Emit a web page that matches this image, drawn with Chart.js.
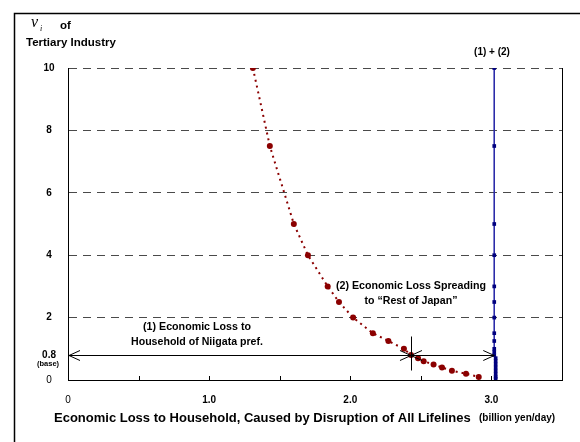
<!DOCTYPE html>
<html>
<head>
<meta charset="utf-8">
<script src="https://cdn.jsdelivr.net/npm/chart.js@4.4.0/dist/chart.umd.min.js"></script>
<style>
    html, body { margin: 0; padding: 0; background: #fff; }
    #wrap { width: 580px; height: 442px; position: relative; }
</style>
</head>
<body>
<div id="wrap"><canvas id="lossChart" width="580" height="442"></canvas></div>
<script>
// (1) loss to household of Niigata pref. vs nu_i
const niigataLoss = [1.31, 1.43, 1.60, 1.70, 1.84, 1.92, 2.02, 2.16, 2.27, 2.38, 2.43, 2.48, 2.52, 2.59, 2.65, 2.72, 2.82, 2.91];
const niigataNu   = [10, 7.5, 5, 4, 3, 2.5, 2, 1.5, 1.25, 1.0, 0.8, 0.7, 0.6, 0.5, 0.4, 0.3, 0.2, 0.1];

// (1) + (2) total loss vs nu_i
const totalLoss = [3.02, 3.02, 3.02, 3.02, 3.02, 3.02, 3.02, 3.02, 3.02, 3.02, 3.02, 3.02, 3.03, 3.03, 3.03, 3.03, 3.03, 3.03, 3.03, 3.03];
const totalNu   = [10, 7.5, 5, 4, 3, 2.5, 2, 1.5, 1.25, 1.0, 0.9, 0.8, 0.7, 0.6, 0.5, 0.4, 0.3, 0.2, 0.1, 0.05];

// axis ticks
const yTickValues = [0, 0.8, 2, 4, 6, 8, 10];
const yGridValues = [2, 4, 6, 8, 10];
const xLabelText = { 0: '0', 1: '1.0', 2: '2.0', 3: '3.0' };

// base case markers
const baseNu = 0.8;
const niigataAtBase = 2.43;
const totalAtBase = 3.02;

const FONT = "'Liberation Sans', Arial, sans-serif";

const toPoints = (xs, ys) => xs.map((x, i) => ({ x: x, y: ys[i] }));

function arrowHead(ctx, x, y, dir) {
    // dir = -1 points left, 1 points right
    ctx.beginPath();
    ctx.moveTo(x - dir * 11, y - 5);
    ctx.lineTo(x, y);
    ctx.lineTo(x - dir * 11, y + 5);
    ctx.stroke();
}

const decorations = {
    id: 'decorations',
    afterDraw(chart) {
        const ctx = chart.ctx;
        const xs = chart.scales.x;
        const ys = chart.scales.y;
        const area = chart.chartArea;

        ctx.save();
        ctx.strokeStyle = '#000';
        ctx.fillStyle = '#000';

        // outer frame
        ctx.lineWidth = 1.5;
        ctx.strokeRect(14.5, 13.5, 640, 500);

        // right border of plot area
        ctx.lineWidth = 1;
        ctx.beginPath();
        ctx.moveTo(area.right + 0.5, area.top);
        ctx.lineTo(area.right + 0.5, area.bottom);
        ctx.stroke();

        // inward tick marks on x axis
        xs.ticks.forEach(t => {
            if (t.value === 0 || t.value === xs.max) return;
            const px = Math.round(xs.getPixelForValue(t.value)) + 0.5;
            ctx.beginPath();
            ctx.moveTo(px, area.bottom);
            ctx.lineTo(px, area.bottom - 4);
            ctx.stroke();
        });

        // base line arrows
        const yb = Math.round(ys.getPixelForValue(baseNu)) + 0.5;
        const x0 = xs.getPixelForValue(0);
        const xm = xs.getPixelForValue(niigataAtBase);
        const xt = xs.getPixelForValue(totalAtBase);
        ctx.lineWidth = 1;
        ctx.beginPath();
        ctx.moveTo(x0, yb);
        ctx.lineTo(xt, yb);
        ctx.stroke();
        arrowHead(ctx, x0 + 1, yb, -1);
        arrowHead(ctx, xt, yb, 1);
        arrowHead(ctx, xm, yb, 1);
        arrowHead(ctx, xm, yb, -1);
        ctx.beginPath();
        ctx.moveTo(Math.round(xm) + 0.5, yb - 19);
        ctx.lineTo(Math.round(xm) + 0.5, yb + 15);
        ctx.stroke();

        // annotation texts
        ctx.textAlign = 'center';
        ctx.textBaseline = 'middle';
        ctx.font = 'bold 11.5px ' + FONT;
        ctx.fillText('(1) Economic Loss to', 197, 327, 108);
        ctx.fillText('Household of Niigata pref.', 197, 342, 132);
        ctx.fillText('(2) Economic Loss Spreading', 411, 286, 150);
        ctx.fillText('to \u201CRest of Japan\u201D', 411, 301, 93);
        ctx.font = 'bold 10px ' + FONT;
        ctx.fillText('(1) + (2)', 492, 52, 40);

        // "(base)" under 0.8
        ctx.font = 'bold 7.5px ' + FONT;
        ctx.fillText('(base)', 48, 364);

        // y axis title
        ctx.textAlign = 'left';
        ctx.font = 'italic 16px "Liberation Serif", serif';
        ctx.fillText('\u03BD', 31, 23);
        ctx.font = 'italic 8px "Liberation Serif", serif';
        ctx.fillText('i', 40, 29);
        ctx.font = 'bold 11.5px ' + FONT;
        ctx.fillText('of', 60, 26);
        ctx.fillText('Tertiary Industry', 26, 43, 92);

        // x axis title
        ctx.font = 'bold 13px ' + FONT;
        ctx.fillText('Economic Loss to Household, Caused by Disruption of All Lifelines', 54, 418, 418);
        ctx.font = 'bold 10px ' + FONT;
        ctx.fillText('(billion yen/day)', 479, 418, 93);

        ctx.restore();
    }
};

new Chart(document.getElementById('lossChart'), {
    type: 'scatter',
    data: {
        datasets: [
            {
                label: '(1) Niigata pref.',
                data: toPoints(niigataLoss, niigataNu),
                showLine: true,
                borderColor: '#8b0000',
                borderWidth: 2,
                borderDash: [2, 4],
                pointStyle: 'circle',
                pointRadius: 3,
                pointBackgroundColor: '#8b0000',
                pointBorderColor: '#8b0000',
                pointBorderWidth: 0
            },
            {
                label: '(1) + (2)',
                data: toPoints(totalLoss, totalNu),
                showLine: true,
                borderColor: '#2a2aa8',
                borderWidth: 1,
                pointStyle: 'rect',
                pointRadius: 2.6,
                pointBackgroundColor: '#00007f',
                pointBorderColor: '#00007f',
                pointBorderWidth: 0
            }
        ]
    },
    options: {
        responsive: false,
        animation: false,
        layout: { padding: { top: 68, right: 18, left: 0, bottom: 0 } },
        plugins: {
            legend: { display: false },
            tooltip: { enabled: false }
        },
        scales: {
            x: {
                type: 'linear',
                min: 0,
                max: 3.5,
                afterFit: (scale) => { scale.height = 62; },
                grid: { display: false, drawTicks: false },
                border: { display: true, color: '#000', width: 1 },
                ticks: {
                    stepSize: 0.5,
                    autoSkip: false,
                    maxRotation: 0,
                    padding: 14,
                    color: '#000',
                    font: (c) => ({ family: FONT, size: 10, weight: (c.tick && c.tick.value === 0) ? 'normal' : 'bold' }),
                    callback: (v) => (xLabelText[v] !== undefined ? xLabelText[v] : '')
                }
            },
            y: {
                type: 'linear',
                min: 0,
                max: 10,
                afterFit: (scale) => { scale.width = 68; },
                afterBuildTicks: (scale) => { scale.ticks = yTickValues.map(v => ({ value: v })); },
                grid: {
                    drawTicks: false,
                    lineWidth: 1,
                    color: (c) => (c.tick && yGridValues.includes(c.tick.value)) ? '#4a4a4a' : 'rgba(0,0,0,0)'
                },
                border: { display: true, color: '#000', width: 1, dash: [8, 6] },
                ticks: {
                    padding: 12,
                    crossAlign: 'center',
                    color: '#000',
                    font: (c) => ({ family: FONT, size: 10, weight: (c.tick && c.tick.value === 0) ? 'normal' : 'bold' }),
                    callback: (v) => String(v)
                }
            }
        }
    },
    plugins: [decorations]
});
</script>
</body>
</html>
